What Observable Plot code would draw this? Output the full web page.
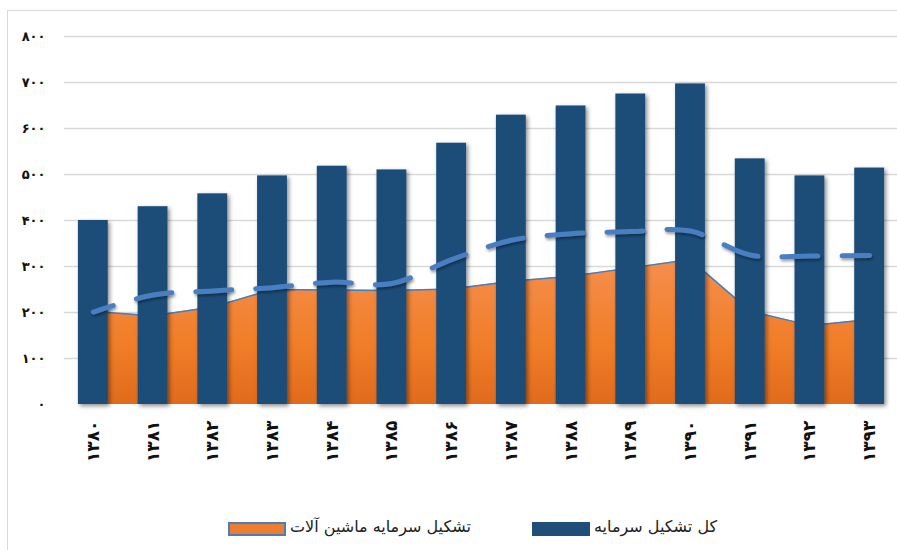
<!DOCTYPE html>
<html><head><meta charset="utf-8">
<script src="https://cdn.jsdelivr.net/npm/d3@7"></script>
<script src="https://cdn.jsdelivr.net/npm/@observablehq/plot@0.6"></script>
<style>
body{margin:0;background:#fff;}
#wrap{position:relative;width:897px;height:550px;overflow:hidden;font-family:"DejaVu Sans",sans-serif;}
#frame{position:absolute;left:7px;top:10px;width:900px;height:560px;border:1px solid #d9d9d9;box-sizing:border-box;}
#chart{position:absolute;left:0;top:0;}
#chart svg text{font-weight:bold;}
.sw{position:absolute;top:522px;height:14px;box-sizing:border-box;}
.lt{position:absolute;top:517px;font-size:16px;direction:rtl;white-space:nowrap;color:#222;}
</style>
</head><body>
<div id="wrap">
  <div id="frame"></div>
  <div id="chart"></div>
  <div class="sw" style="left:228px;width:58px;background:#ed7d31;border:2px solid #4a7ebb;"></div>
  <div class="lt" id="l1" style="left:290px;"></div>
  <div class="sw" style="left:532px;width:58px;background:#1f4e79;"></div>
  <div class="lt" id="l2" style="left:594px;"></div>
</div>
<script>
const years = ["۱۳۸۰","۱۳۸۱","۱۳۸۲","۱۳۸۳","۱۳۸۴","۱۳۸۵","۱۳۸۶","۱۳۸۷","۱۳۸۸","۱۳۸۹","۱۳۹۰","۱۳۹۱","۱۳۹۲","۱۳۹۳"];
const totalCapital = [400, 430, 458, 497, 518, 510, 568, 629, 649, 675, 697, 534, 497, 514];
const machineryCapital = [202, 193, 212, 250, 249, 248, 251, 268, 279, 297, 315, 203, 172, 185];
const trendLine = [201, 238, 247, 254, 266, 263, 315, 357, 371, 376, 377, 325, 323, 324];
const yTicks = [0, 100, 200, 300, 400, 500, 600, 700, 800];
const legendLabels = ["تشکیل سرمایه ماشین آلات", "کل تشکیل سرمایه"];

const fa = n => String(n).replace(/\d/g, d => "۰۱۲۳۴۵۶۷۸۹"[d]);
const data = years.map((y, i) => ({year: y, total: totalCapital[i], mach: machineryCapital[i], trend: trendLine[i]}));

document.getElementById("l1").textContent = legendLabels[0];
document.getElementById("l2").textContent = legendLabels[1];

const chart = Plot.plot({
  width: 897,
  height: 500,
  marginLeft: 64,
  marginRight: 0,
  marginTop: 36,
  marginBottom: 96,
  style: {fontFamily: "DejaVu Sans", fontSize: "13px", color: "#111", background: "transparent"},
  x: {type: "band", domain: years, range: [63, 899], round: false, paddingInner: 0.5, paddingOuter: 0.25,
      tickSize: 0, tickPadding: 16, tickRotate: -90, label: null},
  y: {domain: [0, 800], ticks: yTicks, tickFormat: fa, tickSize: 0, tickPadding: 19, label: null},
  marks: [
    Plot.ruleY(yTicks.filter(t => t > 0), {stroke: "#d9d9d9", strokeWidth: 1.3}),
    Plot.areaY(data, {x: "year", y: "mach", fill: "url(#orangeGrad)"}),
    Plot.lineY(data, {x: "year", y: "mach", stroke: "#4a7ebb", strokeWidth: 1.5}),
    Plot.barY(data, {x: "year", y: "total", fill: "#1f4e79"}),
    Plot.ruleY([0], {stroke: "#8c8c8c", strokeWidth: 1.5}),
    Plot.lineY(data, {x: "year", y: "trend", stroke: "#4a7fc1", strokeWidth: 5,
      strokeDasharray: "36,24", strokeDashoffset: 15, strokeLinecap: "round", curve: "catmull-rom"})
  ]
});

const svg = d3.select(chart);
const defs = svg.insert("defs", ":first-child");
const g = defs.append("linearGradient").attr("id", "orangeGrad").attr("x1", 0).attr("y1", 0).attr("x2", 0).attr("y2", 1);
g.append("stop").attr("offset", "0%").attr("stop-color", "#f58f4e");
g.append("stop").attr("offset", "60%").attr("stop-color", "#f07d27");
g.append("stop").attr("offset", "100%").attr("stop-color", "#e06b1d");
const f = defs.append("filter").attr("id", "shadow").attr("x", "-20%").attr("y", "-20%").attr("width", "150%").attr("height", "150%");
f.append("feDropShadow").attr("dx", 2).attr("dy", 2).attr("stdDeviation", 2).attr("flood-color", "#000").attr("flood-opacity", 0.45);
const f2 = defs.append("filter").attr("id", "shadow2").attr("x", "-5%").attr("y", "-50%").attr("width", "110%").attr("height", "200%");
f2.append("feDropShadow").attr("dx", 1).attr("dy", 2).attr("stdDeviation", 1.5).attr("flood-color", "#000").attr("flood-opacity", 0.4);

svg.selectAll('g[aria-label="bar"]').attr("filter", "url(#shadow)");
const lines = svg.selectAll('g[aria-label="line"]');
lines.filter((d, i) => i === 1).attr("filter", "url(#shadow2)");
svg.selectAll('g[aria-label="rule"]').filter((d, i, n) => i === n.length - 1).attr("filter", "url(#shadow2)");
svg.selectAll('g[aria-label="x-axis tick label"] text, g[aria-label="x-axis"] text').style("font-size", "17px");

document.getElementById("chart").appendChild(chart);
</script>
</body></html>
